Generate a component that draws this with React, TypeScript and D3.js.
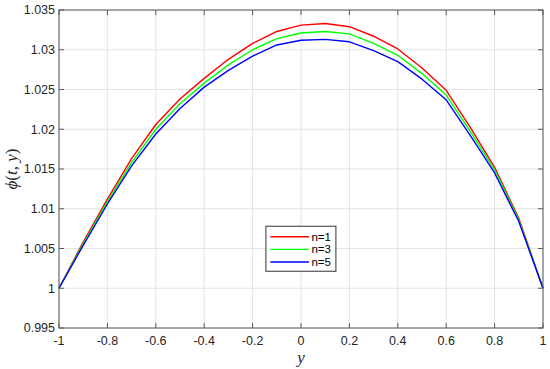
import * as d3 from "d3";
import { useEffect, useRef } from "react";

const yPositions = [
  -1, -0.9, -0.8, -0.7, -0.6, -0.5, -0.4, -0.3, -0.2, -0.1, 0, 0.1, 0.2, 0.3,
  0.4, 0.5, 0.6, 0.7, 0.8, 0.9, 1,
];

const phiN1 = [
  1.0, 1.0058, 1.0112, 1.0163, 1.0206, 1.0238, 1.0264, 1.0288, 1.0308, 1.0323,
  1.0331, 1.0333, 1.0329, 1.0317, 1.0301, 1.0277, 1.0249, 1.0202, 1.0152,
  1.0088, 1.0,
];

const phiN3 = [
  1.0, 1.0056, 1.0109, 1.0158, 1.02, 1.0232, 1.0258, 1.0281, 1.03, 1.0314,
  1.0321, 1.0323, 1.032, 1.0308, 1.0293, 1.027, 1.0243, 1.0197, 1.0149,
  1.0086, 1.0,
];

const phiN5 = [
  1.0, 1.0054, 1.0106, 1.0154, 1.0194, 1.0226, 1.0253, 1.0274, 1.0292, 1.0306,
  1.0312, 1.0313, 1.031, 1.0299, 1.0285, 1.0263, 1.0237, 1.0192, 1.0145,
  1.0084, 1.0,
];

const seriesNames = ["n=1", "n=3", "n=5"];
const seriesColors = ["#ff0000", "#00ff00", "#0000ff"];

const xTicks = [-1, -0.8, -0.6, -0.4, -0.2, 0, 0.2, 0.4, 0.6, 0.8, 1];
const yTicks = [0.995, 1, 1.005, 1.01, 1.015, 1.02, 1.025, 1.03, 1.035];

const width = 550;
const height = 369;

export default function App() {
  const svgRef = useRef<SVGSVGElement | null>(null);

  useEffect(() => {
    const margin = { top: 10, right: 7, bottom: 41, left: 59 };
    const w = width - margin.left - margin.right;
    const h = height - margin.top - margin.bottom;

    const xScale = d3.scaleLinear().domain([-1, 1]).range([0, w]);
    const yScale = d3.scaleLinear().domain([0.995, 1.035]).range([h, 0]);

    const svg = d3.select(svgRef.current);
    svg.selectAll("*").remove();

    const g = svg
      .append("g")
      .attr("transform", `translate(${margin.left},${margin.top})`);

    g.append("rect")
      .attr("width", w)
      .attr("height", h)
      .attr("fill", "#fff");

    // grid
    g.selectAll(".gx")
      .data(xTicks)
      .join("line")
      .attr("x1", (d) => xScale(d))
      .attr("x2", (d) => xScale(d))
      .attr("y1", 0)
      .attr("y2", h)
      .attr("stroke", "#e3e3e3")
      .attr("stroke-width", 1);

    g.selectAll(".gy")
      .data(yTicks)
      .join("line")
      .attr("x1", 0)
      .attr("x2", w)
      .attr("y1", (d) => yScale(d))
      .attr("y2", (d) => yScale(d))
      .attr("stroke", "#e3e3e3")
      .attr("stroke-width", 1);

    // curves
    const allSeries = [phiN1, phiN3, phiN5];
    const line = d3
      .line<number>()
      .x((_, i) => xScale(yPositions[i]))
      .y((d) => yScale(d));

    allSeries.forEach((s, i) => {
      g.append("path")
        .datum(s)
        .attr("fill", "none")
        .attr("stroke", seriesColors[i])
        .attr("stroke-width", 1.4)
        .attr("stroke-linejoin", "round")
        .attr("d", line);
    });

    // frame + ticks (inward, mirrored)
    const frameColor = "#5a5a5a";
    const tickLen = 5;
    g.append("rect")
      .attr("width", w)
      .attr("height", h)
      .attr("fill", "none")
      .attr("stroke", frameColor)
      .attr("stroke-width", 1);

    xTicks.forEach((t) => {
      const x = xScale(t);
      g.append("line")
        .attr("x1", x).attr("x2", x)
        .attr("y1", h).attr("y2", h - tickLen)
        .attr("stroke", frameColor);
      g.append("line")
        .attr("x1", x).attr("x2", x)
        .attr("y1", 0).attr("y2", tickLen)
        .attr("stroke", frameColor);
    });
    yTicks.forEach((t) => {
      const y = yScale(t);
      g.append("line")
        .attr("x1", 0).attr("x2", tickLen)
        .attr("y1", y).attr("y2", y)
        .attr("stroke", frameColor);
      g.append("line")
        .attr("x1", w).attr("x2", w - tickLen)
        .attr("y1", y).attr("y2", y)
        .attr("stroke", frameColor);
    });

    const tickFont = "'Liberation Sans', Arial, Helvetica, sans-serif";
    g.selectAll(".xl")
      .data(xTicks)
      .join("text")
      .attr("x", (d) => xScale(d))
      .attr("y", h + 17)
      .attr("text-anchor", "middle")
      .attr("font-family", tickFont)
      .attr("font-size", 12.5)
      .attr("fill", "#262626")
      .text((d) => String(d));

    g.selectAll(".yl")
      .data(yTicks)
      .join("text")
      .attr("x", -4)
      .attr("y", (d) => yScale(d) + 4.4)
      .attr("text-anchor", "end")
      .attr("font-family", tickFont)
      .attr("font-size", 12.5)
      .attr("fill", "#262626")
      .text((d) => String(d));

    // axis labels
    const serif = "'Liberation Serif', 'DejaVu Serif', serif";
    g.append("text")
      .attr("x", w / 2)
      .attr("y", h + 35)
      .attr("text-anchor", "middle")
      .attr("font-family", serif)
      .attr("font-style", "italic")
      .attr("font-size", 17)
      .attr("fill", "#262626")
      .text("y");

    const yl = g
      .append("text")
      .attr("transform", `translate(${-42},${h / 2}) rotate(-90)`)
      .attr("text-anchor", "middle")
      .attr("font-family", serif)
      .attr("font-size", 17)
      .attr("fill", "#262626");
    yl.append("tspan").attr("font-style", "italic").text("\u03d5");
    yl.append("tspan").text("(");
    yl.append("tspan").attr("font-style", "italic").text("t");
    yl.append("tspan").text(", ");
    yl.append("tspan").attr("font-style", "italic").text("y");
    yl.append("tspan").text(")");

    // legend
    const lx = xScale(-0.145);
    const ly = yScale(1.0078);
    const lw = 70;
    const lh = 45;
    const leg = g.append("g").attr("transform", `translate(${lx},${ly})`);
    leg.append("rect")
      .attr("width", lw)
      .attr("height", lh)
      .attr("fill", "#fff")
      .attr("stroke", "#333")
      .attr("stroke-width", 1);
    seriesNames.forEach((name, i) => {
      const yy = 10.5 + i * 12.6;
      leg.append("line")
        .attr("x1", 4.5).attr("x2", 43)
        .attr("y1", yy).attr("y2", yy)
        .attr("stroke", seriesColors[i])
        .attr("stroke-width", 1.4);
      leg.append("text")
        .attr("x", 45.5)
        .attr("y", yy + 4)
        .attr("font-family", tickFont)
        .attr("font-size", 11.5)
        .attr("fill", "#000")
        .text(name);
    });
  }, []);

  return (
    <svg
      ref={svgRef}
      width={width}
      height={height}
      style={{ position: "absolute", left: 0, top: 0, background: "#fff" }}
    ></svg>
  );
}
